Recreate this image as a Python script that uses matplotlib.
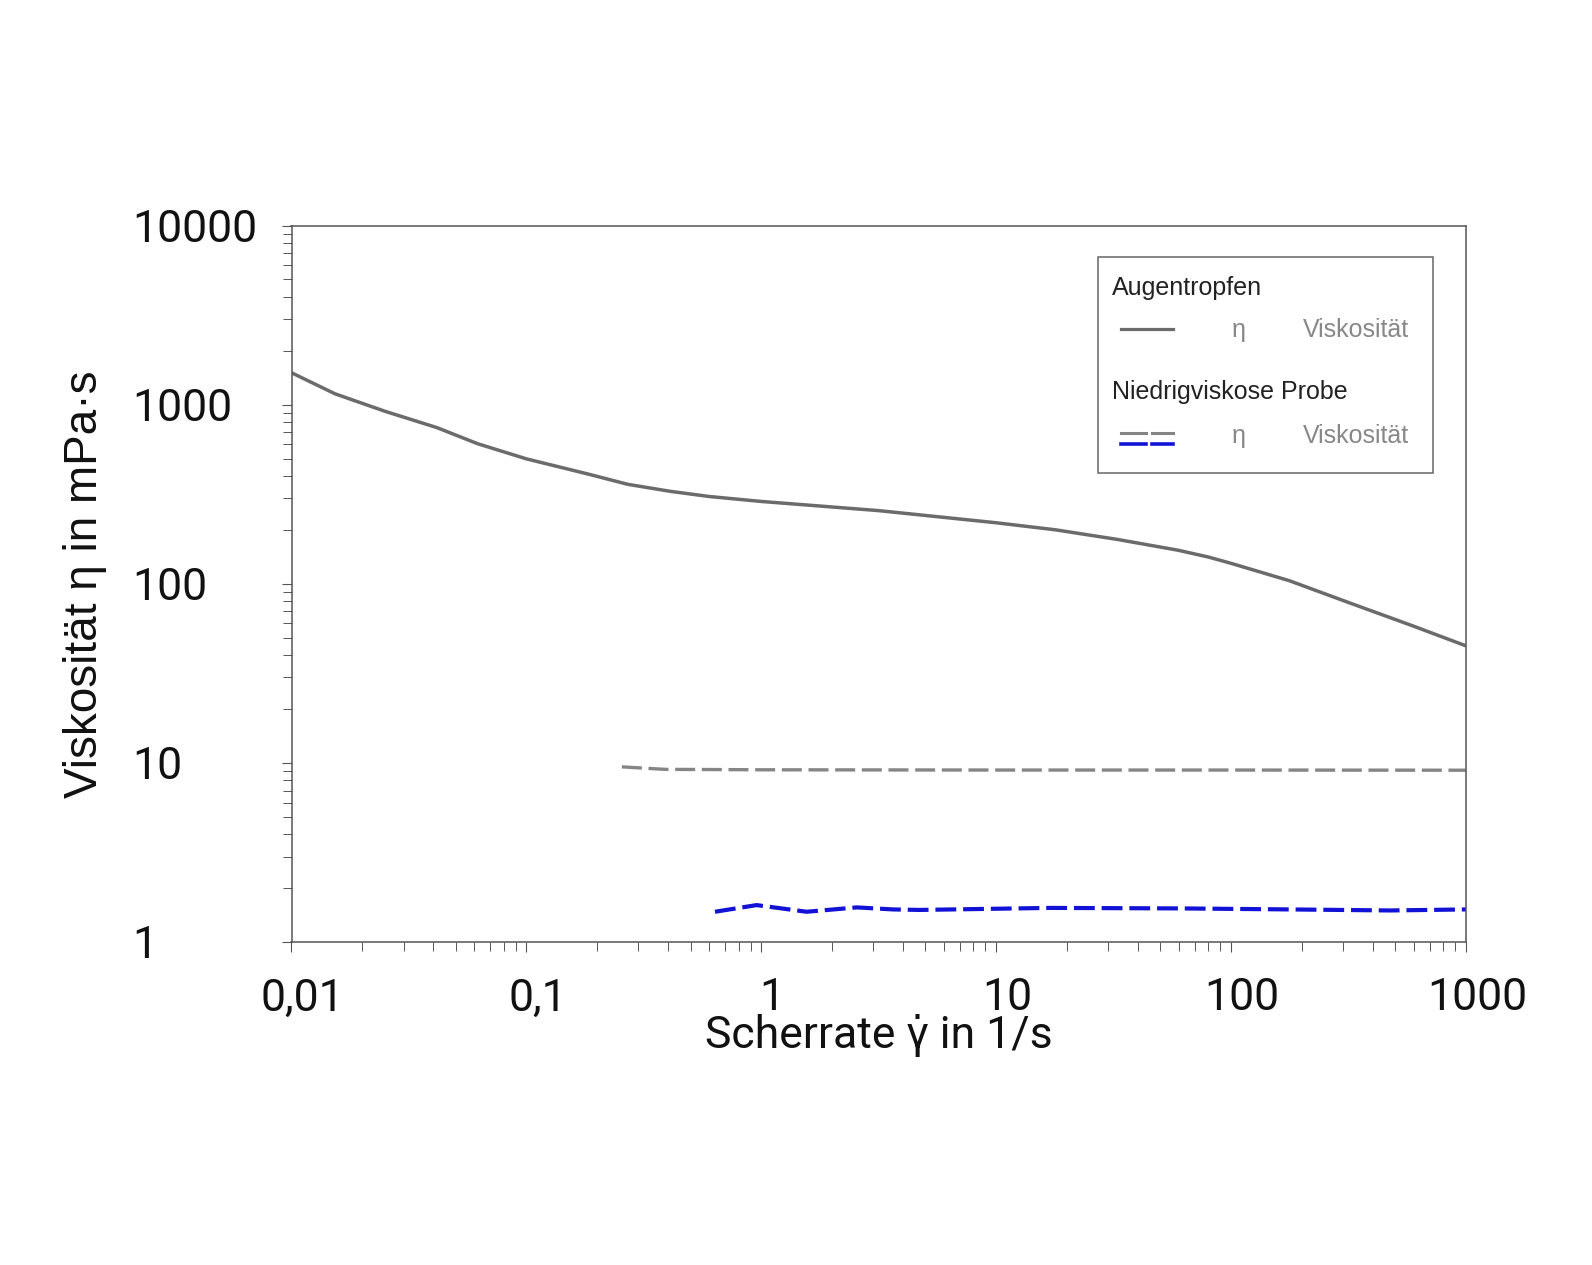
import matplotlib
matplotlib.use("Agg")
import matplotlib.pyplot as plt
import matplotlib.transforms as mtransforms
from matplotlib.patches import Rectangle
from matplotlib.lines import Line2D
from matplotlib.ticker import FixedLocator, LogLocator, NullFormatter

# Augentropfen, Viskositaet (durchgezogen)
shear_eye = [0.01, 0.0153, 0.025, 0.0415, 0.062, 0.1, 0.184, 0.27, 0.41, 0.6, 1, 3.16,
             10, 17.9, 32.6, 59.3, 80, 100, 177, 321, 585, 1000]
eta_eye = [1507, 1150, 918, 745, 605, 498, 409, 359, 328, 307, 288, 256,
           219, 200, 177, 154, 141, 130, 104, 78, 58.6, 45]

# Niedrigviskose Probe, grau gestrichelt
shear_low_gray = [0.255, 0.39, 0.6, 1, 10, 100, 1000]
eta_low_gray = [9.5, 9.2, 9.18, 9.15, 9.12, 9.12, 9.1]

# Niedrigviskose Probe, blau gestrichelt
shear_low_blue = [0.635, 0.955, 1.56, 2.55, 3.64, 4.7, 16.9, 60, 178, 475, 1000]
eta_low_blue = [1.475, 1.607, 1.475, 1.56, 1.52, 1.51, 1.55, 1.54, 1.52, 1.50, 1.52]

x_ticks = [0.01, 0.1, 1, 10, 100, 1000]
x_labels = ["0,01", "0,1", "1", "10", "100", "1000"]
y_ticks = [1, 10, 100, 1000, 10000]
y_labels = ["1", "10", "100", "1000", "10000"]

W, H = 1592, 1265
fig = plt.figure(figsize=(W / 100, H / 100), dpi=100)
fig.patch.set_facecolor("white")


def fx(px):
    return px / W


def fy(py):
    return 1 - py / H


ax = fig.add_axes([fx(291.5), fy(942), fx(1466) - fx(291.5), fy(225.5) - fy(942)])
ax.set_xscale("log")
ax.set_yscale("log")
ax.set_xlim(0.01, 1000)
ax.set_ylim(1, 10000)

ax.plot(shear_eye, eta_eye, color="#6b6b6b", lw=2.5, solid_capstyle="butt")
ax.plot(shear_low_gray, eta_low_gray, color="#858585", lw=2.4, dashes=(6, 2))
ax.plot(shear_low_blue, eta_low_blue, color="#1212d6", lw=3.0, dashes=(5, 1.65))

spine_col = "#555555"
for s in ax.spines.values():
    s.set_color(spine_col)
    s.set_linewidth(1.1)

ax.xaxis.set_major_locator(FixedLocator(x_ticks))
ax.xaxis.set_minor_locator(LogLocator(base=10, subs=range(2, 10)))
ax.xaxis.set_minor_formatter(NullFormatter())
ax.set_xticklabels(x_labels)
ax.yaxis.set_major_locator(FixedLocator(y_ticks))
ax.yaxis.set_minor_locator(LogLocator(base=10, subs=range(2, 10)))
ax.yaxis.set_minor_formatter(NullFormatter())
ax.set_yticklabels(y_labels)

ax.tick_params(which="major", direction="out", length=7.5, width=0.8, color=spine_col)
ax.tick_params(which="minor", direction="out", length=6.5, width=0.7, color=spine_col)
ax.tick_params(axis="x", which="major", pad=18)
ax.tick_params(axis="y", which="major", pad=107.5)

for lab in ax.get_yticklabels():
    lab.set_fontfamily("Roboto")
    lab.set_fontsize(32)
    lab.set_horizontalalignment("left")
    lab.set_color("#111111")

shift = mtransforms.ScaledTranslation(11 / 100, 0, fig.dpi_scale_trans)
for lab in ax.get_xticklabels():
    lab.set_fontfamily("Roboto")
    lab.set_fontsize(32)
    lab.set_color("#111111")
    lab.set_transform(lab.get_transform() + shift)

ax.set_xlabel("Scherrate \u03b3\u0307 in 1/s", family=["Roboto", "DejaVu Sans"],
              fontsize=32, color="#111111")
ax.xaxis.set_label_coords(0.5, -0.1)
ax.set_ylabel("Viskosität η in mPa·s", fontfamily="Liberation Sans", fontsize=33, color="#111111")
ax.yaxis.set_label_coords(-0.1575, 0.5)

# Legende
fig.patches.append(Rectangle((fx(1098), fy(473)), fx(1433) - fx(1098), fy(257) - fy(473),
                             transform=fig.transFigure, facecolor="white",
                             edgecolor="#666666", lw=1.1, zorder=5))
leg_font = dict(fontfamily="Liberation Sans", fontsize=18, va="baseline", zorder=6)
fig.text(fx(1112), fy(295), "Augentropfen", color="#222222", **leg_font)
fig.text(fx(1112), fy(399), "Niedrigviskose Probe", color="#222222", **leg_font)
for base in (337, 443):
    fig.text(fx(1239), fy(base), "η", color="#888888", ha="center", **leg_font)
    fig.text(fx(1303), fy(base), "Viskosität", color="#888888", ha="left", **leg_font)

fig.lines.append(Line2D([fx(1121), fx(1173)], [fy(329), fy(329)], transform=fig.transFigure,
                        color="#6b6b6b", lw=2.3, zorder=6))
for x0, x1 in ((1121, 1146), (1152, 1173)):
    fig.lines.append(Line2D([fx(x0), fx(x1)], [fy(433), fy(433)], transform=fig.transFigure,
                            color="#858585", lw=2.2, zorder=6))
    fig.lines.append(Line2D([fx(x0), fx(x1)], [fy(443.5), fy(443.5)], transform=fig.transFigure,
                            color="#1212d6", lw=2.6, zorder=6))

fig.savefig("out.png", dpi=100)
